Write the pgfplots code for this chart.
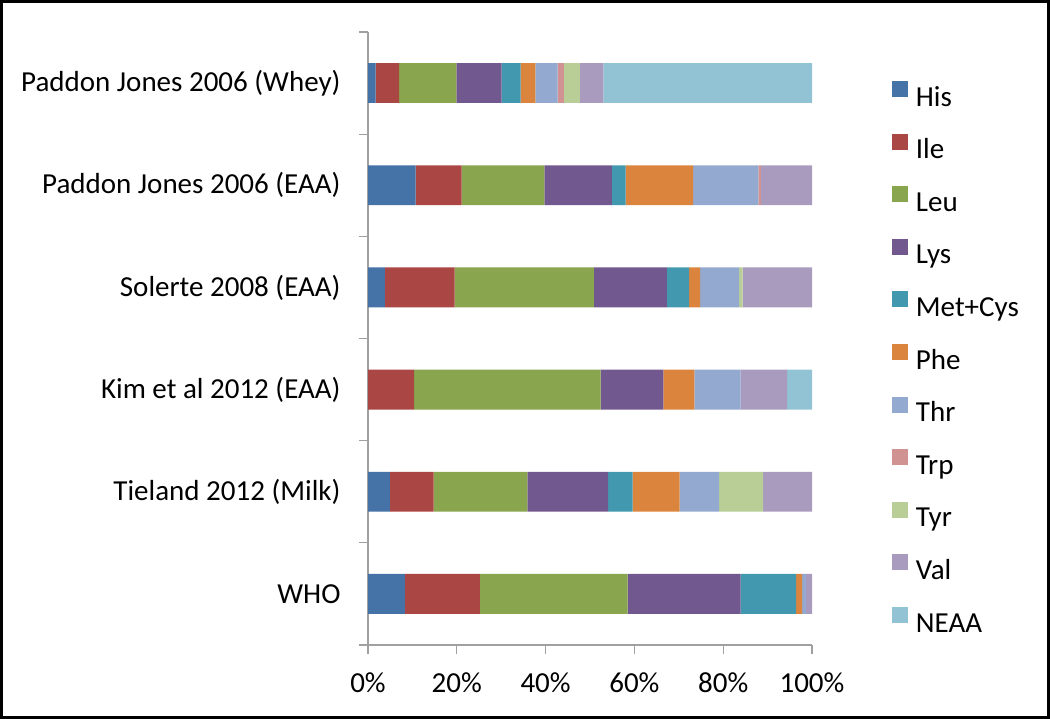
\documentclass[border=0pt]{standalone}
\usepackage{pgfplots}
\pgfplotsset{compat=1.18}
\usepackage{pgfplotstable}
\usepackage{fontspec}
\setmainfont{Carlito}
\definecolor{cHis}{HTML}{4572A7}
\definecolor{cIle}{HTML}{AA4643}
\definecolor{cLeu}{HTML}{89A54E}
\definecolor{cLys}{HTML}{71588F}
\definecolor{cMet}{HTML}{4198AF}
\definecolor{cPhe}{HTML}{DB843D}
\definecolor{cThr}{HTML}{93A9CF}
\definecolor{cTrp}{HTML}{D19392}
\definecolor{cTyr}{HTML}{B9CD96}
\definecolor{cVal}{HTML}{A99BBD}
\definecolor{cNEAA}{HTML}{92C3D4}
\definecolor{axgray}{HTML}{A0A0A0}
\pgfplotstableread{
pos His Ile Leu Lys MetCys Phe Thr Trp Tyr Val NEAA
0 8.3 16.9 33.3 25.4 12.5 1.4 0.8 0 0 1.4 0
1 4.9 9.9 21.1 18.2 5.5 10.6 8.9 0 9.9 11.0 0
2 0 10.4 42.0 14.1 0 7.0 10.4 0 0 10.5 5.6
3 3.8 15.7 31.4 16.4 5.0 2.5 8.8 0 0.8 15.6 0
4 10.7 10.4 18.6 15.2 3.1 15.2 14.7 0.6 0 11.5 0
5 1.7 5.3 12.9 10.2 4.3 3.3 5.0 1.4 3.6 5.3 47.0
}\datatable
\begin{document}
\begin{tikzpicture}[font=\fontsize{29bp}{34bp}\selectfont]
\draw[line width=3bp] (1.5bp,1.5bp) rectangle (1048.5bp,717.5bp);
\begin{axis}[
  at={(368bp,74bp)}, anchor=south west,
  scale only axis, width=444bp, height=613bp,
  xbar stacked, bar width=0.39,
  xmin=0, xmax=100, ymin=-0.5, ymax=5.5,
  axis lines*=left,
  axis line style={draw=axgray, line width=1.2bp, -},
  xtick={0,20,40,60,80,100},
  xticklabels={0\%,20\%,40\%,60\%,80\%,100\%},
  ytick={0,1,2,3,4,5},
  yticklabels={WHO,Tieland 2012 (Milk),Kim et al 2012 (EAA),Solerte 2008 (EAA),Paddon Jones 2006 (EAA),Paddon Jones 2006 (Whey)},
  minor ytick={-0.5,0.5,1.5,2.5,3.5,4.5,5.5},
  major tick length=9bp, minor tick length=9bp,
  tick align=outside,
  major x tick style={draw=axgray, line width=1.2bp},
  major y tick style={draw=none},
  minor y tick style={draw=axgray, line width=1.2bp},
  yticklabel style={xshift=-15bp},
  xticklabel style={yshift=-15bp},
  legend style={draw=none, fill=none, inner sep=0pt, outer sep=0pt,
    anchor=north west, at={(1.180,0.920)},
    nodes={inner sep=0pt, text height=21bp, text depth=6bp},
    row sep=21.6bp, column sep=8bp},
  legend cell align=left,
  legend image code/.code={\fill[#1] (0bp,1.5bp) rectangle (16bp,17.5bp);},
  every axis plot/.append style={draw=none},
]
\addplot[fill=cHis] table[x=His,y=pos]{\datatable};
\addplot[fill=cIle] table[x=Ile,y=pos]{\datatable};
\addplot[fill=cLeu] table[x=Leu,y=pos]{\datatable};
\addplot[fill=cLys] table[x=Lys,y=pos]{\datatable};
\addplot[fill=cMet] table[x=MetCys,y=pos]{\datatable};
\addplot[fill=cPhe] table[x=Phe,y=pos]{\datatable};
\addplot[fill=cThr] table[x=Thr,y=pos]{\datatable};
\addplot[fill=cTrp] table[x=Trp,y=pos]{\datatable};
\addplot[fill=cTyr] table[x=Tyr,y=pos]{\datatable};
\addplot[fill=cVal] table[x=Val,y=pos]{\datatable};
\addplot[fill=cNEAA] table[x=NEAA,y=pos]{\datatable};
\legend{His,Ile,Leu,Lys,Met+Cys,Phe,Thr,Trp,Tyr,Val,NEAA}
\end{axis}
\end{tikzpicture}
\end{document}
